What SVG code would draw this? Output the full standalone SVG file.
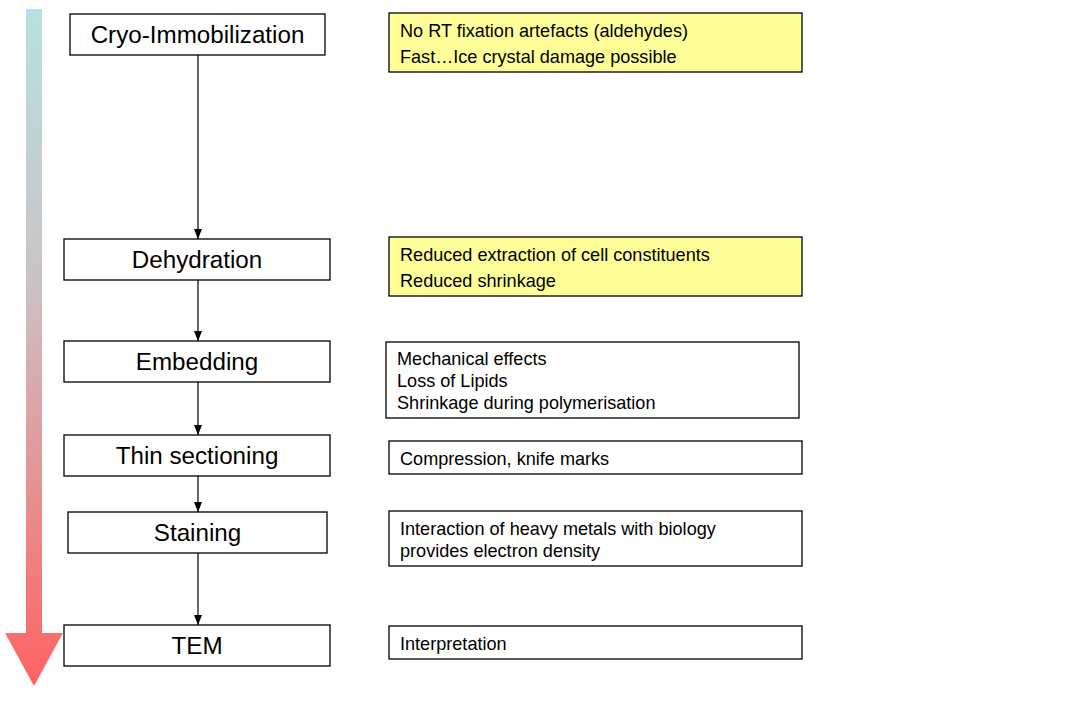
<svg xmlns="http://www.w3.org/2000/svg" width="1081" height="711" viewBox="0 0 1081 711">
  <defs>
    <linearGradient id="flow" x1="0" y1="9" x2="0" y2="686" gradientUnits="userSpaceOnUse">
      <stop offset="0" stop-color="#b7e0e2"/>
      <stop offset="0.4" stop-color="#cbc3c6"/>
      <stop offset="1" stop-color="#ff6262"/>
    </linearGradient>
    <marker id="tip" viewBox="0 0 10 10" refX="10" refY="5" markerWidth="10" markerHeight="10" markerUnits="userSpaceOnUse" orient="auto">
      <path d="M0,1 L10,5 L0,9 Z" fill="#000"/>
    </marker>
    <style>
      .step rect { fill: #fff; stroke: #000; stroke-width: 1.3; }
      .step text { font-family: "Liberation Sans", Arial, sans-serif; font-size: 24.2px; fill: #000; text-anchor: middle; }
      .note rect { fill: #fff; stroke: #000; stroke-width: 1.3; }
      .note.hl rect { fill: #ffff99; }
      .note text { font-family: "Liberation Sans", Arial, sans-serif; font-size: 18.1px; fill: #000; }
      .links line { stroke: #000; stroke-width: 1.2; marker-end: url(#tip); }
    </style>
  </defs>

  <rect width="1081" height="711" fill="#fff"/>

  <!-- process direction arrow -->
  <path d="M26,9 H42 V633 H63 L34,686 L5,633 H26 Z" fill="url(#flow)"/>

  <!-- connectors -->
  <g class="links">
    <line x1="198" y1="55" x2="198" y2="239"/>
    <line x1="198" y1="280" x2="198" y2="341"/>
    <line x1="198" y1="382" x2="198" y2="435"/>
    <line x1="198" y1="476" x2="198" y2="512"/>
    <line x1="198" y1="553" x2="198" y2="625"/>
  </g>

  <!-- process steps -->
  <g id="cryo" class="step"><rect x="70" y="14" width="255" height="41"/><text x="197.5" y="43">Cryo-Immobilization</text></g>
  <g id="dehydration" class="step"><rect x="64" y="239" width="266" height="41"/><text x="197" y="268">Dehydration</text></g>
  <g id="embedding" class="step"><rect x="64" y="341" width="266" height="41"/><text x="197" y="370">Embedding</text></g>
  <g id="sectioning" class="step"><rect x="64" y="435" width="266" height="41"/><text x="197" y="464">Thin sectioning</text></g>
  <g id="staining" class="step"><rect x="68" y="512" width="259" height="41"/><text x="197.5" y="541">Staining</text></g>
  <g id="tem" class="step"><rect x="64" y="625" width="266" height="41"/><text x="197" y="654">TEM</text></g>

  <!-- notes -->
  <g id="note-cryo" class="note hl"><rect x="389" y="13" width="413" height="59"/>
    <text x="400" y="36.5">No RT fixation artefacts (aldehydes)</text>
    <text x="400" y="62.5">Fast…Ice crystal damage possible</text></g>
  <g id="note-dehydration" class="note hl"><rect x="389" y="237" width="413" height="59"/>
    <text x="400" y="260.5">Reduced extraction of cell constituents</text>
    <text x="400" y="286.5">Reduced shrinkage</text></g>
  <g id="note-embedding" class="note"><rect x="386" y="342" width="413" height="76"/>
    <text x="397" y="364.5">Mechanical effects</text>
    <text x="397" y="386.5">Loss of Lipids</text>
    <text x="397" y="408.5">Shrinkage during polymerisation</text></g>
  <g id="note-sectioning" class="note"><rect x="389" y="441" width="413" height="33"/>
    <text x="400" y="464.5">Compression, knife marks</text></g>
  <g id="note-staining" class="note"><rect x="389" y="511" width="413" height="55"/>
    <text x="400" y="534.5">Interaction of heavy metals with biology</text>
    <text x="400" y="556.5">provides electron density</text></g>
  <g id="note-tem" class="note"><rect x="389" y="626" width="413" height="33"/>
    <text x="400" y="649.5">Interpretation</text></g>
</svg>
